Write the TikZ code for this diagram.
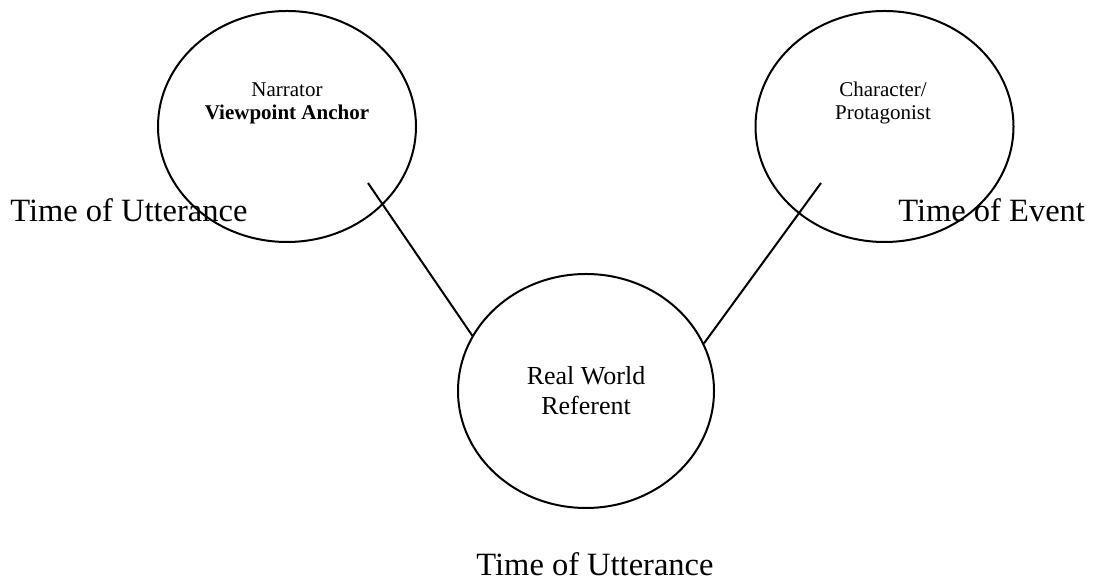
\documentclass[tikz,border=0pt]{standalone}
\usepackage{fontspec}
\setmainfont{Liberation Serif}
\usetikzlibrary{positioning, shapes.geometric}

\begin{document}
\begin{tikzpicture}[x = .5pt, y = -.5pt]%
    %
    \def\bubblewidth{129pt}%
    \def\bubbleheight{115.5pt}%
    %
    \tikzstyle{bubble} = [ellipse, draw = black, line width = 1pt, minimum width = \bubblewidth, minimum height = \bubbleheight, inner sep = 0pt]%
    \tikzstyle{link} = [draw = black, line width = 1pt]%
    \tikzstyle{smalltext} = [align = center, font = \fontsize{10.5}{11.5}\selectfont, inner sep = 0pt]%
    \tikzstyle{midtext} = [align = center, font = \fontsize{13}{15}\selectfont, inner sep = 0pt]%
    \tikzstyle{timetext} = [font = \fontsize{16.25}{19}\selectfont, inner sep = 0pt]%
    %
    \useasboundingbox (0, 0) rectangle (1093, 581);%
    %
    % Bubbles
    \node (narrator) [bubble] at (287, 126.5) {};%
    \node (character) [bubble] at (884.5, 126.5) {};%
    \node (referent) [bubble, minimum width = 128pt, minimum height = 117pt] at (586, 391) {};%
    %
    % Bubble texts
    \node (narratorText) [smalltext] at ([yshift = 11.75pt] narrator.center) {Narrator\\\textbf{Viewpoint Anchor}};%
    \node (characterText) [smalltext] at ([yshift = 11.75pt, xshift = -.75pt] character.center) {Character/\\Protagonist};%
    \node (referentText) [midtext] at (referent.center) {Real World\\Referent};%
    %
    % Links
    \coordinate (narratorEnd) at ([shift = {(81, 56.5)}] narrator.center);%
    \coordinate (characterEnd) at ([shift = {(-63.5, 56.5)}] character.center);%
    \draw [link] (narratorEnd) -- (referent.154.6);%
    \draw [link] (characterEnd) -- (referent.22.7);%
    %
    % Times
    \node (utteranceLeft) [timetext, anchor = base west] at (10, 222) {Time of Utterance};%
    \node (event) [timetext, anchor = base west] at (898, 222) {Time of Event};%
    \node (utteranceBottom) [timetext, below = 21.5pt of referent, xshift = 4.5pt] {Time of Utterance};%
    %
\end{tikzpicture}
\end{document}
